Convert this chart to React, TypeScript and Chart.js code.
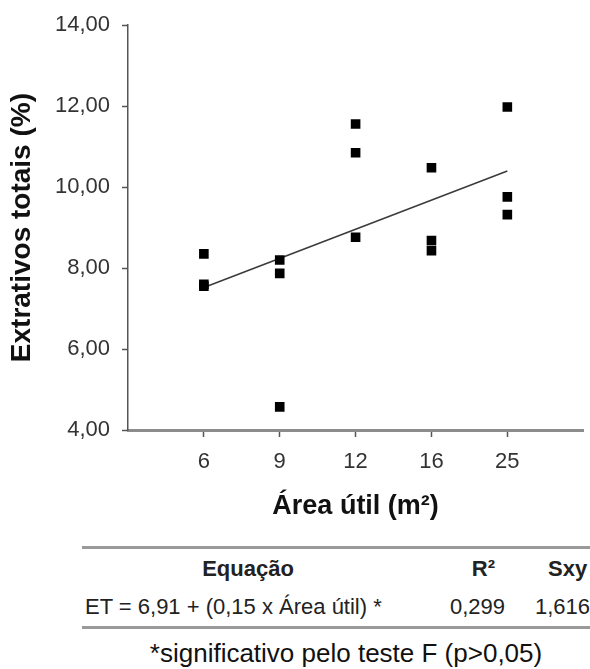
import React, { useEffect, useRef } from "react";
import { Chart, registerables } from "chart.js";

Chart.register(...registerables);

// Data
const categories = ["6", "9", "12", "16", "25"]; // Área útil (m²)
const rep1 = [8.35, 8.2, 11.56, 10.48, 11.98];
const rep2 = [7.6, 7.87, 10.85, 8.68, 9.76];
const rep3 = [7.55, 4.57, 8.76, 8.43, 9.32];
const trendValues = [7.52, 10.4]; // fitted line at first and last area
const yTicks = [4, 6, 8, 10, 12, 14];

const FONT = "'Liberation Sans', Arial, Helvetica, sans-serif";

export default function App() {
  const canvasRef = useRef<HTMLCanvasElement | null>(null);

  useEffect(() => {
    const canvas = canvasRef.current;
    if (!canvas) return;
    const points: { x: number; y: number }[] = [];
    [rep1, rep2, rep3].forEach((rep) =>
      rep.forEach((v, i) => points.push({ x: i, y: v }))
    );
    const chart = new Chart(canvas, {
      type: "scatter",
      data: {
        datasets: [
          {
            type: "line",
            data: [
              { x: 0, y: trendValues[0] },
              { x: categories.length - 1, y: trendValues[1] },
            ],
            borderColor: "#3a3a3a",
            borderWidth: 1.5,
            pointRadius: 0,
            fill: false,
            order: 2,
          } as any,
          {
            data: points,
            pointStyle: "rect",
            pointRadius: 6.8,
            backgroundColor: "#000",
            borderWidth: 0,
            order: 1,
          } as any,
        ],
      },
      options: {
        responsive: false,
        animation: false,
        layout: { padding: { top: 24, right: 2, bottom: 0, left: 0 } },
        plugins: { legend: { display: false }, tooltip: { enabled: false } },
        scales: {
          x: {
            type: "linear",
            min: -1,
            max: categories.length,
            afterBuildTicks: (s: any) => {
              s.ticks = categories.map((_, i) => ({ value: i }));
            },
            afterFit: (s: any) => {
              s.height = 100;
            },
            ticks: {
              autoSkip: false,
              maxRotation: 0,
              padding: 12,
              color: "#333",
              font: { family: FONT, size: 22 },
              callback: (v: any) => categories[v] ?? "",
            },
            grid: {
              drawOnChartArea: false,
              drawTicks: true,
              tickLength: 7,
              tickColor: "#555",
              tickWidth: 1.5,
            },
            border: { display: true, color: "#8c8c8c", width: 3 },
            title: {
              display: true,
              text: "Área útil (m²)",
              color: "#111",
              font: { family: FONT, size: 27, weight: "bold" },
              padding: { top: 0, bottom: 7 },
            },
          },
          y: {
            min: 4,
            max: 14,
            afterBuildTicks: (s: any) => {
              s.ticks = yTicks.map((v) => ({ value: v }));
            },
            afterFit: (s: any) => {
              s.width = 128;
            },
            ticks: {
              padding: 12,
              color: "#333",
              font: { family: FONT, size: 22 },
              callback: (v: any) => Number(v).toFixed(2).replace(".", ","),
            },
            grid: {
              drawOnChartArea: false,
              drawTicks: true,
              tickLength: 6,
              tickColor: "#555",
              tickWidth: 1.5,
            },
            border: { display: true, color: "#555", width: 1.5 },
            title: {
              display: true,
              text: "Extrativos totais (%)",
              color: "#111",
              font: { family: FONT, size: 28, weight: "bold" },
              padding: { top: 5.5, bottom: 0 },
            },
          },
        },
      } as any,
    });
    return () => chart.destroy();
  }, []);

  const txt: React.CSSProperties = {
    position: "absolute",
    fontFamily: FONT,
    fontSize: 22,
    lineHeight: "22px",
    color: "#222",
    whiteSpace: "nowrap",
  };

  return (
    <div
      style={{
        position: "absolute",
        left: 0,
        top: 0,
        width: 590,
        height: 669,
        background: "#fff",
        overflow: "hidden",
      }}
    >
      <canvas
        ref={canvasRef}
        width={590}
        height={530}
        style={{ display: "block", width: 590, height: 530 }}
      />
      <div style={{ position: "absolute", left: 82, top: 546, width: 508, height: 3, background: "#9a9a9a" }} />
      <div style={{ ...txt, left: 148, top: 558, width: 200, textAlign: "center", fontWeight: "bold" }}>Equação</div>
      <div style={{ ...txt, left: 395, top: 558, width: 100, textAlign: "right", fontWeight: "bold" }}>R²</div>
      <div style={{ ...txt, left: 548, top: 558, fontWeight: "bold" }}>Sxy</div>
      <div style={{ ...txt, left: 85, top: 596 }}>ET = 6,91 + (0,15 x Área útil) *</div>
      <div style={{ ...txt, left: 405, top: 596, width: 100, textAlign: "right" }}>0,299</div>
      <div style={{ ...txt, left: 535, top: 596 }}>1,616</div>
      <div style={{ position: "absolute", left: 82, top: 626, width: 508, height: 3, background: "#9a9a9a" }} />
      <div
        style={{
          ...txt,
          left: 96,
          top: 640,
          width: 500,
          textAlign: "center",
          fontSize: 26,
          lineHeight: "26px",
          color: "#111",
        }}
      >
        *significativo pelo teste F (p&gt;0,05)
      </div>
    </div>
  );
}
